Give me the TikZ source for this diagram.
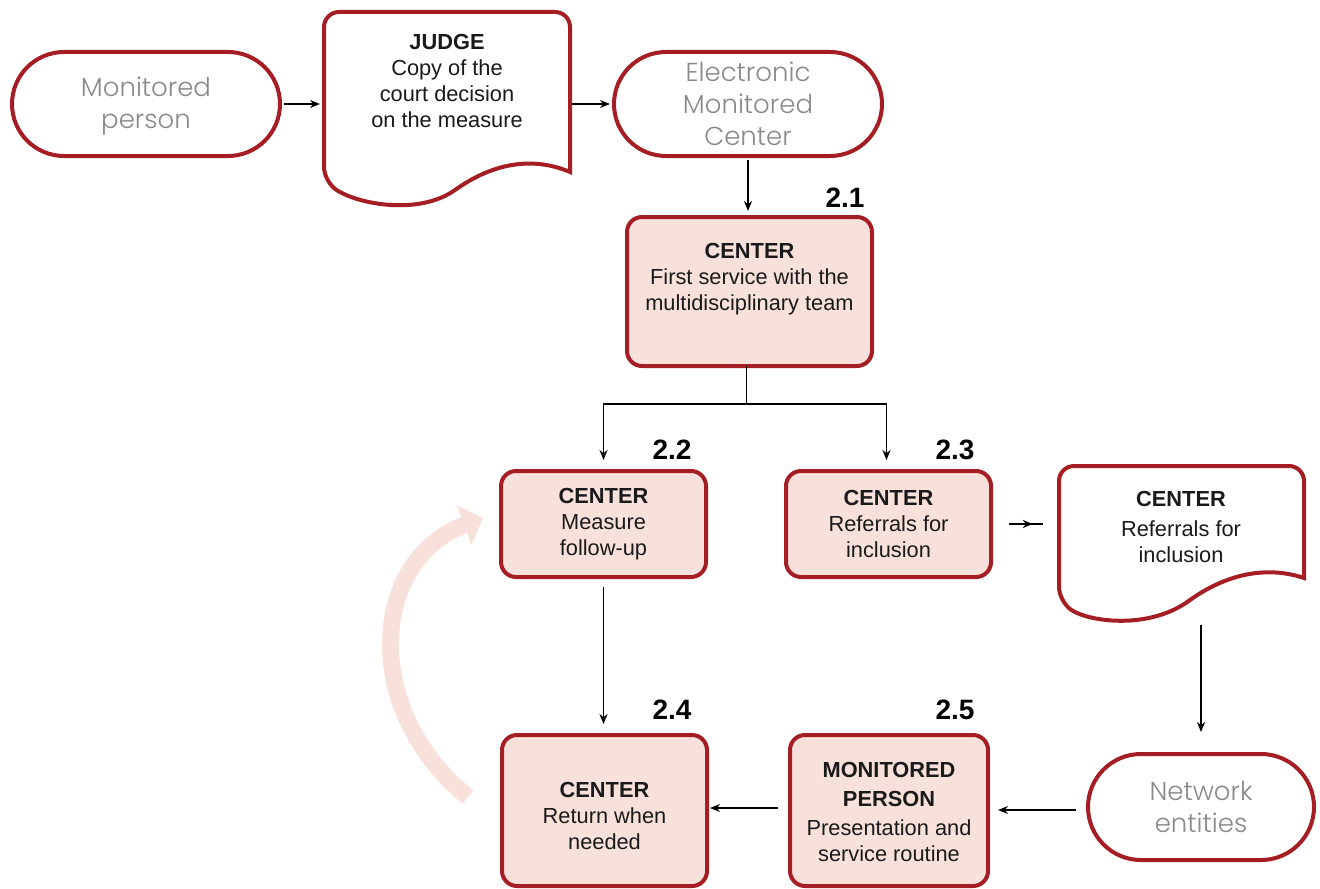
\documentclass[tikz,border=0pt]{standalone}
\usepackage{fontspec}
\setmainfont{Liberation Sans}
\IfFontExistsTF{Poppins Light}{\newfontfamily\lightfont{Poppins Light}}{\newfontfamily\lightfont{Poppins}}
\usetikzlibrary{arrows.meta,decorations.markings,calc}
\definecolor{wine}{HTML}{A51E24}
\definecolor{blush}{HTML}{F9E1DB}
\definecolor{ink}{HTML}{1A1A1A}
\definecolor{mist}{HTML}{8A8A8A}
\begin{document}
\begin{tikzpicture}[x=0.5pt,y=-0.5pt,
  every node/.style={outer sep=0pt, inner sep=0pt},
  terminal/.style={draw=wine, fill=white, line width=2pt, rounded corners=26pt,
    minimum width=134pt, minimum height=52pt,
    font=\lightfont\fontsize{13}{16}\selectfont, text=mist, align=center},
  stepbox/.style={draw=wine, fill=blush, line width=2pt, rounded corners=7.5pt,
    minimum width=102.5pt, minimum height=53pt},
  frame/.style={draw=none},
  boxtext/.style={font=\fontsize{10.9}{13}\selectfont, text=ink, align=center},
  tag/.style={font=\bfseries\fontsize{14}{16}\selectfont, text=black},
  doc/.style={draw=wine, fill=white, line width=2pt},
  link/.style={draw=black, line width=0.9pt},
  flow/.style={link, -{Stealth[length=5pt,width=4pt]}},
  midflow/.style={link, postaction=decorate, decoration={markings,
    mark=at position 0.7 with {\arrow{Stealth[length=5pt,width=4pt]}}}},
  loopback/.style={draw=blush, line width=8.5pt, -{Triangle[length=10pt,width=20.5pt]}},
]
\useasboundingbox (0,0) rectangle (1320,888);

% return loop behind the boxes
\node[stepbox] (b22) at (603.5,524) {};
\node[stepbox, minimum height=75.5pt] (b24) at (604.5,810.5) {};
\draw[loopback] ($(b24.west)+(-34,-13.5)$) .. controls +(-108,-87) and +(-113,42) .. ($(b22.west)+(-18,-6)$);

% terminals
\node[terminal] (mp) at (146,104) {};
\node[terminal, draw=none, fill=none] (mptxt) at (146,106) {Monitored\\person};
\node[terminal] (emc) at (748,104) {Electronic\\Monitored\\Center};
\node[terminal, minimum width=113pt, minimum height=53pt, rounded corners=26.5pt] (net) at (1201,807) {Network\\entities};

% document: court decision
\draw[doc] (570,172) [rounded corners=7.5pt] -- (570,12) -- (324,12) -- (324,182) [sharp corners]
  .. controls (360,205) and (420,215) .. (455,190)
  .. controls (490,165) and (530,155) .. (570,172) -- cycle;
\node[frame, minimum width=123pt, minimum height=85pt] (judge) at (447,97) {};
\node[boxtext] (judgetxt) at (447,81) {\textbf{JUDGE}\\Copy of the\\court decision\\on the measure};

% document: referrals
\draw[doc] (1304,578) [rounded corners=7.5pt] -- (1304,466) -- (1059,466) -- (1059,602) [sharp corners]
  .. controls (1090,622) and (1150,630) .. (1190,600)
  .. controls (1225,575) and (1265,565) .. (1304,578) -- cycle;
\node[frame, minimum width=122.5pt, minimum height=68pt] (ref) at (1181.5,534) {};
\node[boxtext] (reftxt) at (1181,527) {\textbf{CENTER}\\[2pt]Referrals for\\inclusion};

% process steps
\node[stepbox, minimum width=122.5pt, minimum height=74.5pt] (b21) at (749.5,291.5) {};
\node[boxtext] (b21txt) at (749.5,279) {\textbf{CENTER}\\First service with the\\multidisciplinary team};
\node[boxtext] (b22txt) at (603.5,524) {\textbf{CENTER}\\Measure\\follow-up};
\node[stepbox] (b23) at (888.5,524) {};
\node[boxtext] (b23txt) at (888.5,524) {\textbf{CENTER}\\Referrals for\\inclusion};
\node[boxtext] (b24txt) at (604.5,815.5) {\textbf{CENTER}\\Return when\\needed};
\node[stepbox, minimum width=99pt, minimum height=75.5pt] (b25) at (889,810.5) {};
\node[boxtext] (b25txt) at (889,812) {\textbf{MONITORED}\\[1.5pt]\textbf{PERSON}\\[1.5pt]Presentation and\\service routine};

% step numbers
\node[tag] (t21) at (845,198) {2.1};
\node[tag] (t22) at (672,450) {2.2};
\node[tag] (t23) at (955,450) {2.3};
\node[tag] (t24) at (672,710) {2.4};
\node[tag] (t25) at (955,710) {2.5};

% connectors
\draw[flow] ($(mp.east)+(4,0)$) -- ($(mp.east -| judge.west)+(-4,0)$);
\draw[flow] ($(judge.east |- emc.west)+(2,0)$) -- ($(emc.west)+(-4,0)$);
\draw[flow] ($(emc.south)+(0,4)$) -- ($(emc.south |- b21.north)+(0,-6)$);
\coordinate (fork) at ($(b21.south)+(-3,38)$);
\draw[link] ($(b21.south)+(-3,0)$) -- (fork);
\draw[flow] (fork) -| ($(b22.north)+(0,-11)$);
\draw[flow] (fork) -| ($(b23.north)+(-2,-11)$);
\draw[midflow] ($(b23.east)+(18,0)$) -- ($(b23.east -| ref.west)+(-16,0)$);
\draw[flow] ($(ref.south -| net.north)+(0,23)$) -- ($(net.north)+(0,-22)$);
\draw[flow] ($(net.west)+(-12,3)$) -- ($(b25.east |- net.west)+(10,3)$);
\draw[flow] ($(b25.west)+(-12,-2.5)$) -- ($(b24.east)+(3,-2.5)$);
\draw[flow] ($(b22.south)+(0,10)$) -- ($(b22.south |- b24.north)+(0,-11)$);
\end{tikzpicture}
\end{document}
